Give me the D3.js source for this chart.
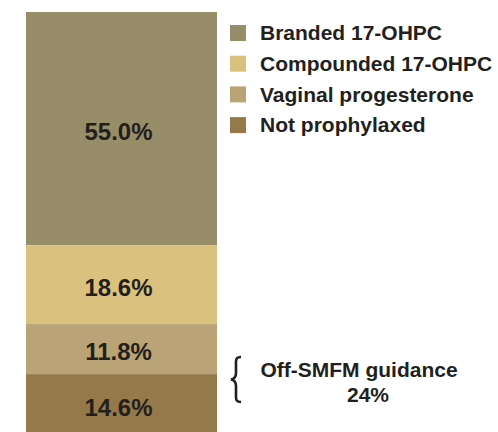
<!DOCTYPE html>
<html>
<head>
<meta charset="utf-8">
<script src="https://cdn.jsdelivr.net/npm/d3@7"></script>
<style>
  body { margin: 0; background: #fff; }
  text { font-family: "Liberation Sans", Arial, sans-serif; font-weight: bold; fill: #231f1c; }
</style>
</head>
<body>
<div id="canvas"></div>
<script>
// data, top of the bar first
var categories = ['Branded 17-OHPC', 'Compounded 17-OHPC', 'Vaginal progesterone', 'Not prophylaxed'];
var shares = [55.0, 18.6, 11.8, 14.6];
var colors = ['#988d69', '#dac27e', '#baa475', '#96794a'];
var noteLabel = 'Off-SMFM guidance';
var noteValue = '24%';

var W = 498, H = 432;

var svg = d3.select('#canvas')
    .append('svg')
    .attr('width', W)
    .attr('height', H);

// one stacked bar, scale runs top->bottom
var scaleY = d3.scaleLinear()
    .domain([0, 100])
    .range([12, 436]);

var scaleX = d3.scaleBand()
    .domain(['all'])
    .range([26, 217])
    .padding(0);

var rows = [];
var acc = 0;
categories.forEach(function(c, i){
    rows.push({name: c, value: shares[i], y0: acc, y1: acc + shares[i], color: colors[i]});
    acc += shares[i];
});

var bar = svg.append('g');

bar.selectAll('rect')
    .data(rows)
    .enter()
    .append('rect')
    .attr('x', scaleX('all'))
    .attr('width', scaleX.bandwidth())
    .attr('y', function(d){ return scaleY(d.y0); })
    .attr('height', function(d){ return scaleY(d.y1) - scaleY(d.y0); })
    .attr('fill', function(d){ return d.color; });

bar.selectAll('text')
    .data(rows)
    .enter()
    .append('text')
    .attr('x', scaleX('all') + scaleX.bandwidth() / 2 - 3)
    .attr('y', function(d){ return (scaleY(d.y0) + scaleY(d.y1)) / 2 + 3; })
    .attr('dy', '0.35em')
    .attr('text-anchor', 'middle')
    .style('font-size', '24px')
    .text(function(d){ return d.value.toFixed(1) + '%'; });

// legend
var legend = svg.append('g')
    .attr('transform', 'translate(230,33)');

var item = legend.selectAll('g')
    .data(rows)
    .enter()
    .append('g')
    .attr('transform', function(d, i){ return 'translate(0,' + (i * 30.7) + ')'; });

item.append('rect')
    .attr('x', 0)
    .attr('y', -8)
    .attr('width', 16)
    .attr('height', 16)
    .attr('fill', function(d){ return d.color; });

item.append('text')
    .attr('x', 30)
    .attr('y', 0)
    .attr('dy', '0.35em')
    .style('font-size', '21px')
    .text(function(d){ return d.name; });

// brace note
var note = svg.append('g');
note.append('path')
    .attr('d', 'M241,357 C235,357 236,361 236,366 L236,373 C236,377 234,379 231,379.5 C234,380 236,382 236,386 L236,393 C236,398 235,402 241,402')
    .attr('fill', 'none')
    .attr('stroke', '#231f1c')
    .attr('stroke-width', 2.6);

note.append('text')
    .attr('x', 359)
    .attr('y', 377)
    .attr('text-anchor', 'middle')
    .style('font-size', '21px')
    .text(noteLabel);

note.append('text')
    .attr('x', 368)
    .attr('y', 402)
    .attr('text-anchor', 'middle')
    .style('font-size', '21px')
    .text(noteValue);
</script>
</body>
</html>
